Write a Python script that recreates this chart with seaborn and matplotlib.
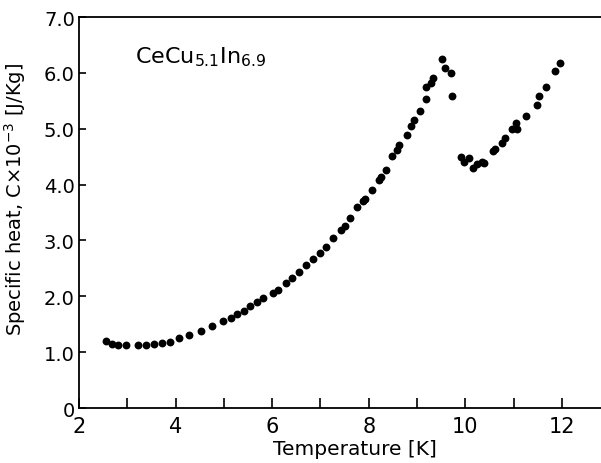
import matplotlib
matplotlib.use("Agg")
import matplotlib.pyplot as plt
import numpy as np
import seaborn as sns

# Specific heat of CeCu5.1In6.9
temperature = [2.56, 2.69, 2.81, 2.98, 3.22, 3.39, 3.55, 3.71, 3.89, 4.08,
               4.28, 4.52, 4.75, 4.99, 5.14, 5.28, 5.42, 5.55, 5.69, 5.82,
               6.01, 6.13, 6.29, 6.42, 6.55, 6.71, 6.85, 7.00, 7.12, 7.27,
               7.42, 7.51, 7.61, 7.76, 7.89, 7.92, 8.06, 8.21, 8.25, 8.36,
               8.49, 8.59, 8.63, 8.80, 8.87, 8.94, 9.07, 9.18, 9.18, 9.30,
               9.34, 9.51, 9.58, 9.70, 9.72, 9.92, 9.97, 10.08, 10.16, 10.25,
               10.34, 10.39, 10.57, 10.61, 10.75, 10.83, 10.96, 11.04, 11.07, 11.25,
               11.48, 11.53, 11.67, 11.86, 11.96]
specific_heat = [1.20, 1.14, 1.13, 1.13, 1.13, 1.13, 1.14, 1.16, 1.19, 1.25,
                 1.31, 1.37, 1.47, 1.56, 1.62, 1.69, 1.73, 1.82, 1.90, 1.97,
                 2.06, 2.12, 2.23, 2.33, 2.43, 2.56, 2.67, 2.78, 2.89, 3.04,
                 3.18, 3.25, 3.40, 3.59, 3.70, 3.75, 3.90, 4.08, 4.14, 4.26,
                 4.51, 4.62, 4.70, 4.88, 5.04, 5.16, 5.31, 5.54, 5.75, 5.81,
                 5.91, 6.24, 6.08, 5.99, 5.59, 4.50, 4.40, 4.47, 4.29, 4.36,
                 4.40, 4.38, 4.60, 4.63, 4.75, 4.84, 4.99, 5.10, 4.99, 5.22,
                 5.43, 5.59, 5.74, 6.03, 6.17]

x_ticks = [2, 4, 6, 8, 10, 12]
x_minor = [3, 5, 7, 9, 11]
y_ticks = [0, 1, 2, 3, 4, 5, 6, 7]
y_tick_labels = ["0", "1.0", "2.0", "3.0", "4.0", "5.0", "6.0", "7.0"]

sns.set_style("ticks")
plt.rcParams["font.family"] = ["DejaVu Sans"]
plt.rcParams["mathtext.fontset"] = "dejavusans"
plt.rcParams["text.color"] = "black"
plt.rcParams["axes.labelcolor"] = "black"

fig = plt.figure(figsize=(6.01, 4.64), dpi=100)
ax = fig.add_axes([0.1314, 0.1185, 0.8686, 0.8427])

sns.scatterplot(x=temperature, y=specific_heat, color="black", s=32,
                linewidth=0, legend=False, ax=ax)

ax.set_xlim(2, 12.81)
ax.set_ylim(0, 7)
ax.set_xticks(x_ticks)
ax.set_xticks(x_minor, minor=True)
ax.set_yticks(y_ticks)
ax.set_yticklabels(y_tick_labels)

ax.tick_params(axis="x", which="both", direction="in", length=7, width=1.2,
               labelsize=15, pad=6, colors="black")
ax.tick_params(axis="y", which="both", direction="in", length=5, width=1.2,
               labelsize=14, pad=3, colors="black")

for side in ["left", "bottom", "top"]:
    ax.spines[side].set_linewidth(1.3)
    ax.spines[side].set_color("black")
ax.spines["right"].set_visible(False)

ax.set_xlabel("Temperature [K]", fontsize=14.5, color="black")
ax.xaxis.set_label_coords(0.529, -0.078)
ax.set_ylabel(r"Specific heat, C$\times$10$^{-3}$ [J/Kg]", fontsize=14,
              color="black")
ax.yaxis.set_label_coords(-0.097, 0.535)

ax.text(3.16, 6.19, r"CeCu$_{5.1}$In$_{6.9}$", fontsize=16, va="baseline",
        ha="left", color="black")

fig.savefig("out.png", dpi=100)
